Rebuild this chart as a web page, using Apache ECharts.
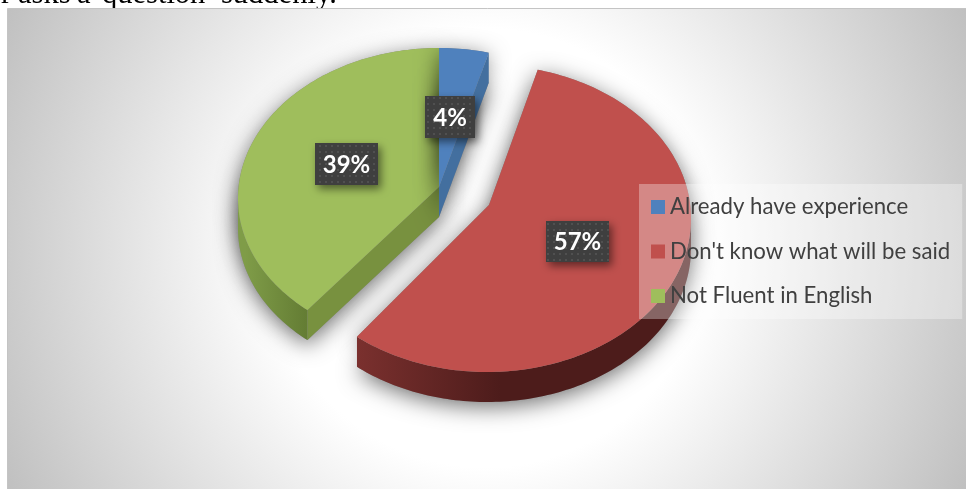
<!DOCTYPE html>
<html>
<head>
<meta charset="utf-8">
<style>html,body{margin:0;padding:0;background:#fff}#chart{width:966px;height:489px}</style>
<script src="https://cdn.jsdelivr.net/npm/echarts@6/dist/echarts.min.js"></script>
</head>
<body>
<div id="chart"></div>
<script>
// Reasons for hesitating when asked a question, in percent
const categories = ['Already have experience', "Don't know what will be said", 'Not Fluent in English'];
const values = [4, 57, 39];
const faceColors = ['#4f81bd', '#c0504d', '#9fbe5c'];

// Running text of the page above the chart, clipped by the window edge
const headingWords = ['r', 'asks', 'a', 'question', 'suddenly.'];
const headingX = [1, 18, 77, 102, 221];

// Tilted-disc geometry for each exploded slice: rim ellipse centre, radii,
// perspective lean and apex
const discs = [
  { ex: 439, ey: 196, rx: 200, ry: 148, lean: 0, ax: 439, ay: 187 },
  { ex: 487, ey: 218.5, rx: 204, ry: 153.5, lean: 0, ax: 489, ay: 205 },
  { ex: 439, ey: 196, rx: 198, ry: 148, lean: -3, ax: 439, ay: 187 }
];
const depth = 30;
const labelBoxes = [
  { x: 425, y: 96, w: 50, h: 42 },
  { x: 546, y: 221, w: 63, h: 41 },
  { x: 315, y: 143, w: 63, h: 42 }
];
const wallStops = [
  null,
  { x0: 358, x1: 500, c0: '#7a302e', c1: '#4d1c1b' },
  { x0: 245, x1: 306, c0: '#7f9c48', c1: '#647d34' }
];
const radialWallColors = ['#436f9f', null, '#78913f'];

const total = values.reduce((a, b) => a + b, 0);

function sliceAngles(i) {
  let before = 0;
  for (let k = 0; k < i; k++) before += values[k];
  return [before / total * 2 * Math.PI, (before + values[i]) / total * 2 * Math.PI];
}
function rimPoint(d, t, dy) {
  return [
    d.ex + d.rx * Math.sin(t) + d.lean * (1 - Math.cos(t)),
    d.ey - d.ry * Math.cos(t) + (dy || 0)
  ];
}
function rimPoints(d, a0, a1, dy) {
  const pts = [];
  const n = Math.max(2, Math.ceil((a1 - a0) / 0.02));
  for (let k = 0; k <= n; k++) pts.push(rimPoint(d, a0 + (a1 - a0) * k / n, dy));
  return pts;
}

// Dotted fill for the data label boxes
const dots = document.createElement('canvas');
dots.width = dots.height = 6;
const dc = dots.getContext('2d');
dc.fillStyle = '#3f3f3f';
dc.fillRect(0, 0, 6, 6);
dc.fillStyle = '#505050';
dc.fillRect(1, 1, 2, 2);

function renderSlice(i) {
  return function (params, api) {
    const value = api.value(0);
    const d = discs[i];
    const [a0, a1] = sliceAngles(i);
    const face = [[d.ax, d.ay]].concat(rimPoints(d, a0, a1));
    const children = [];

    // Soft shadow cast by the slice and its thickness
    const lower = [[d.ax, d.ay + depth]].concat(rimPoints(d, a0, a1, depth));
    [face, lower].forEach(function (pts) {
      children.push({
        type: 'polygon',
        shape: { points: pts },
        style: { fill: '#888', shadowBlur: 22, shadowColor: 'rgba(0,0,0,0.55)', shadowOffsetX: 0, shadowOffsetY: 5 }
      });
    });

    // Outer wall follows the lower half of the rim
    const wallA0 = Math.max(a0, Math.PI / 2);
    const wallA1 = Math.min(a1, 3 * Math.PI / 2);
    if (wallStops[i] && wallA1 > wallA0) {
      const s = wallStops[i];
      const top = rimPoints(d, wallA0, wallA1);
      const bottom = rimPoints(d, wallA0, wallA1, depth).reverse();
      children.push({
        type: 'polygon',
        shape: { points: top.concat(bottom) },
        style: {
          fill: new echarts.graphic.LinearGradient(s.x0, 0, s.x1, 0,
            [{ offset: 0, color: s.c0 }, { offset: 1, color: s.c1 }], true)
        }
      });
    }

    // Cut wall along the slice's closing edge
    if (radialWallColors[i]) {
      const t = i === 0 ? a1 : a0;
      const p = rimPoint(d, t);
      children.push({
        type: 'polygon',
        shape: { points: [[d.ax, d.ay], p, [p[0], p[1] + depth], [d.ax, d.ay + depth]] },
        style: { fill: radialWallColors[i] }
      });
    }

    children.push({ type: 'polygon', shape: { points: face }, style: { fill: faceColors[i] } });

    const b = labelBoxes[i];
    children.push({
      type: 'rect',
      z2: 100,
      shape: { x: b.x, y: b.y, width: b.w, height: b.h },
      style: {
        fill: { image: dots, repeat: 'repeat' },
        shadowBlur: 8, shadowColor: 'rgba(0,0,0,0.5)', shadowOffsetX: 3, shadowOffsetY: 4
      }
    });
    children.push({
      type: 'text',
      z2: 101,
      style: {
        x: b.x + b.w / 2, y: b.y + b.h / 2 + 1,
        text: value + '%',
        fill: '#fff',
        font: '700 24px Lato',
        align: 'center', verticalAlign: 'middle'
      }
    });
    return { type: 'group', children: children };
  };
}

const drawOrder = [2, 0, 1];
const chart = echarts.init(document.getElementById('chart'), null, { renderer: 'canvas' });
chart.setOption({
  animation: false,
  backgroundColor: '#fff',
  graphic: headingWords.map(function (word, k) {
    return {
      type: 'text', z: -2, silent: true,
      style: { x: headingX[k], y: -21, text: word, fill: '#000', font: '30.5px "Liberation Serif"' }
    };
  }).concat([{
    type: 'rect', z: -1, silent: true,
    shape: { x: 7.5, y: 8.5, width: 960, height: 481 },
    style: {
      stroke: '#c4c4c4', lineWidth: 1,
      fill: new echarts.graphic.RadialGradient(486, 248, 535, [
        { offset: 0, color: '#ffffff' },
        { offset: 0.41, color: '#ffffff' },
        { offset: 1, color: '#c0c0c0' }
      ], true)
    }
  }]),
  legend: {
    orient: 'vertical',
    left: 639,
    top: 184,
    padding: [11, 12, 11, 12],
    backgroundColor: 'rgba(255,255,255,0.32)',
    data: categories,
    icon: 'rect',
    itemWidth: 14,
    itemHeight: 14,
    itemGap: 20.5,
    selectedMode: false,
    textStyle: { color: '#404040', fontFamily: 'Lato', fontSize: 22.2, lineHeight: 24 }
  },
  series: drawOrder.map(function (i) {
    return {
      type: 'custom',
      name: categories[i],
      coordinateSystem: 'none',
      silent: true,
      itemStyle: { color: faceColors[i] },
      renderItem: renderSlice(i),
      data: [{ name: categories[i], value: values[i] }]
    };
  })
});
</script>
</body>
</html>
